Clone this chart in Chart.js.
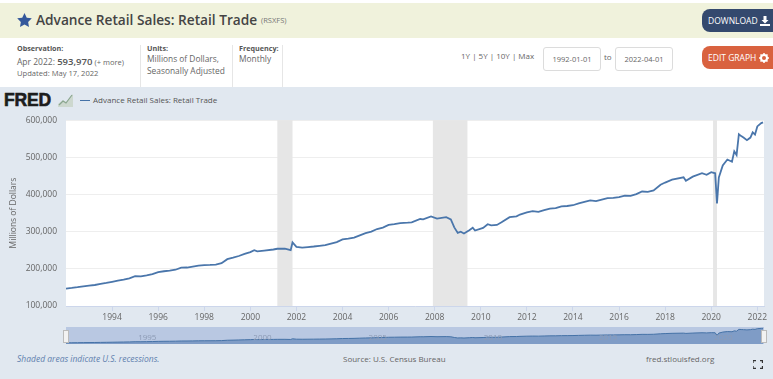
<!DOCTYPE html>
<html>
<head>
<meta charset="utf-8">
<title>Advance Retail Sales: Retail Trade</title>
<script src="https://cdn.jsdelivr.net/npm/chart.js@4"></script>
<style>
  html, body { margin: 0; padding: 0; }
  body { width: 773px; height: 379px; position: relative; overflow: hidden; background: #fff;
         font-family: "Open Sans", sans-serif; color: #666; }
  .t { position: absolute; white-space: nowrap; line-height: 1; }
  .box { position: absolute; }
  .input { position: absolute; top: 47px; width: 56px; height: 22px; border: 1px solid #dcdcdc; border-radius: 3px;
           background: #fff; font-size: 7.5px; line-height: 22px; text-align: center; color: #666; }
  .btn { position: absolute; left: 702px; width: 71px; height: 23px; border-radius: 8px 0 0 8px; color: #fff;
         font-size: 8.5px; line-height: 23px; padding-left: 6px; box-sizing: border-box; white-space: nowrap; }
  .btn svg { vertical-align: -2px; }
  canvas { position: absolute; }
  #mainWrap { position: absolute; left: 0; top: 106px; width: 773px; height: 216px; }
  #navWrap { position: absolute; left: 66px; top: 327px; width: 698px; height: 17px; }
</style>
</head>
<body>
<!-- page header -->
<div class="box" style="left:0;top:3px;width:773px;height:35px;background:#f0f2dc"></div>
<svg class="box" style="left:17px;top:13px" width="15" height="14" viewBox="0 0 24 23"><path fill="#34589b" d="M12 0l3.7 7.6 8.3 1.2-6 5.9 1.4 8.3L12 19l-7.4 4L6 14.700l-6-5.900 8.300-1.200z"/></svg>
<div class="t" style="left:36px;top:13px;font-size:13.700px;font-weight:600;color:#444">Advance Retail Sales: Retail Trade</div>
<div class="t" style="left:261px;top:17px;font-size:7.5px;color:#777">(RSXFS)</div>
<div class="btn" style="top:9px;background:#34496e">DOWNLOAD <svg width="10" height="10" viewBox="0 0 10 10"><path fill="#fff" d="M3.500 0h3v4h2L5 7.500 1.500 4h2zM0 8h10v2H0z"/></svg></div>

<div class="t" style="left:17px;top:45px;font-size:7.2px;font-weight:700;color:#555">Observation:</div>
<div class="t" style="left:17px;top:57px;font-size:8.500px">Apr 2022: <b style="font-size:9.500px;font-weight:600;color:#555">593,970</b> <span style="font-size:7.500px">(+ more)</span></div>
<div class="t" style="left:17px;top:70px;font-size:7.600px">Updated: May 17, 2022</div>
<div class="box" style="left:140px;top:45px;width:1px;height:42px;background:#e6e6e6"></div>
<div class="t" style="left:147px;top:45px;font-size:7.200px;font-weight:700;color:#555">Units:</div>
<div class="t" style="left:147px;top:55px;font-size:8.400px">Millions of Dollars,</div>
<div class="t" style="left:147px;top:67px;font-size:8.400px">Seasonally Adjusted</div>
<div class="box" style="left:232px;top:45px;width:1px;height:42px;background:#e6e6e6"></div>
<div class="t" style="left:239px;top:45px;font-size:7.200px;font-weight:700;color:#555">Frequency:</div>
<div class="t" style="left:239px;top:55px;font-size:8.400px">Monthly</div>
<div class="box" style="left:282px;top:45px;width:1px;height:42px;background:#e6e6e6"></div>

<div class="t" style="left:461px;top:52px;font-size:8px">1Y | 5Y | 10Y | Max</div>
<div class="input" style="left:543px">1992-01-01</div>
<div class="t" style="left:604px;top:53px;font-size:8px">to</div>
<div class="input" style="left:615px">2022-04-01</div>
<div class="btn" style="top:46px;background:#d9623f">EDIT GRAPH <svg width="10" height="10" viewBox="0 0 10 10"><circle cx="5" cy="5" r="3" fill="none" stroke="#fff" stroke-width="2"/><path stroke="#fff" stroke-width="1.500" d="M5 0v2M5 8v2M0 5h2M8 5h2M1.500 1.500l1.300 1.300M7.200 7.200l1.300 1.300M1.500 8.500l1.300-1.300M7.200 2.800l1.300-1.300"/></svg></div>

<!-- blue part of the graph panel -->
<div class="box" style="left:0;top:87px;width:773px;height:292px;background:#e1e8f0"></div>
<div class="t" style="left:4px;top:92px;font-size:17.500px;font-weight:700;color:#1d1d1d;font-family:'Liberation Sans',sans-serif;letter-spacing:-.2px;-webkit-text-stroke:.6px #1d1d1d">FRED</div>
<svg class="box" style="left:58px;top:93px" width="16" height="14" viewBox="0 0 16 14"><path d="M0 14V11L5 7l3 2 7-8v13z" fill="#cdd8cf"/><path d="M1 12L5 8l3 2 6-8" fill="none" stroke="#8aa68f" stroke-width="1.200"/></svg>
<div class="box" style="left:80px;top:100px;width:10px;height:1px;background:#4572a7"></div>
<div class="t" style="left:93px;top:96px;font-size:8px;color:#555">Advance Retail Sales: Retail Trade</div>

<div id="mainWrap"><canvas id="salesChart"></canvas></div>
<div id="navWrap"><canvas id="navChart"></canvas></div>
<!-- navigator handles -->
<div class="box" style="left:63px;top:330px;width:4px;height:11px;background:#f2f2f2;border:1px solid #bbb"></div>
<div class="box" style="left:761px;top:330px;width:4px;height:11px;background:#f2f2f2;border:1px solid #bbb"></div>

<div class="t" style="left:17px;top:355px;font-size:8.500px;font-style:italic;color:#5f7fae">Shaded areas indicate U.S. recessions.</div>
<div class="t" style="left:343px;top:355px;font-size:8px">Source: U.S. Census Bureau</div>
<div class="t" style="left:646px;top:355px;font-size:8px">fred.stlouisfed.org</div>
<svg class="box" style="left:753px;top:360px" width="10" height="9" viewBox="0 0 10 9"><path fill="none" stroke="#333" stroke-width="1.300" d="M0 3V.7h3M7 .7h2.500V3M0 6v2.300h3M7 8.300h2.500V6"/></svg>

<script>
const saleYears = [
  1992, 1992.25, 1992.5, 1992.75, 1993, 1993.25, 1993.5, 1993.75,
  1994, 1994.25, 1994.5, 1994.75, 1995, 1995.25, 1995.5, 1995.75,
  1996, 1996.25, 1996.5, 1996.75, 1997, 1997.25, 1997.5, 1997.75,
  1998, 1998.25, 1998.5, 1998.75, 1999, 1999.25, 1999.5, 1999.75,
  2000, 2000.17, 2000.3, 2000.6, 2001, 2001.17, 2001.5, 2001.75, 2001.83, 2002,
  2002.25, 2002.5, 2002.75, 2003, 2003.25, 2003.5, 2003.75,
  2004, 2004.25, 2004.5, 2004.75, 2005, 2005.25, 2005.5, 2005.75,
  2006, 2006.25, 2006.5, 2006.83, 2007, 2007.37, 2007.5, 2007.84,
  2008.1, 2008.5, 2008.7, 2008.85, 2009, 2009.13, 2009.27, 2009.5, 2009.65, 2009.75,
  2010.1, 2010.3, 2010.45, 2010.7, 2010.9, 2011.25, 2011.55, 2011.7,
  2012, 2012.25, 2012.5, 2012.75, 2013, 2013.25, 2013.5, 2013.75,
  2014, 2014.25, 2014.5, 2014.75, 2015, 2015.25, 2015.5, 2015.75,
  2016, 2016.25, 2016.5, 2016.75, 2017, 2017.25, 2017.5, 2017.8,
  2018, 2018.3, 2018.8, 2018.9, 2019.2, 2019.6, 2019.8, 2020, 2020.17, 2020.25,
  2020.33, 2020.5, 2020.7, 2020.9, 2021, 2021.1, 2021.2, 2021.3, 2021.4, 2021.55,
  2021.7, 2021.8, 2021.9, 2022, 2022.17, 2022.25
];
const saleValues = [
  146900, 148500, 150500, 153000, 155000, 156500, 159500, 162000,
  165000, 168000, 171000, 174500, 180000, 179500, 182500, 186000,
  191000, 193500, 195000, 197500, 203000, 203500, 206000, 208500,
  210000, 210500, 211500, 215000, 226000, 230000, 234500, 240000,
  245000, 250000, 247000, 249000, 252000, 254000, 254500, 250000, 271000, 259000,
  257000, 258500, 260000, 262000, 264000, 268000, 272000,
  279000, 281000, 284000, 290000, 296000, 300000, 307000, 311000,
  318000, 320000, 323000, 324000, 325000, 334000, 333000, 341000,
  335000, 339000, 333000, 311500, 296500, 300000, 295000, 304000, 310600, 303000,
  310000, 320000, 317000, 318000, 325000, 339000, 341000, 346000,
  352000, 355000, 353000, 358000, 362000, 363000, 368000, 369000,
  371000, 376000, 380000, 384000, 382000, 386000, 390000, 391000,
  393000, 397000, 396000, 401000, 408000, 407000, 411000, 426000,
  432000, 440000, 446000, 437000, 448000, 457000, 453000, 460000, 457000, 376000,
  446000, 478000, 494000, 488000, 516000, 506000, 562000, 557000, 553000, 546000,
  553000, 567000, 561000, 583000, 592000, 593970
];

const recessionStarts = [2001.17, 2007.92, 2020.08];
const recessionEnds = [2001.83, 2009.42, 2020.25];
const yTicks = [100000, 200000, 300000, 400000, 500000, 600000];
const xTicks = [1994, 1996, 1998, 2000, 2002, 2004, 2006, 2008, 2010, 2012, 2014, 2016, 2018, 2020, 2022];
const navLabels = [1995, 2000, 2005, 2010, 2015, 2020];

const salePoints = saleYears.map((year, i) => ({ x: year, y: saleValues[i] }));

// white plot background and grey recession bands
const plotBands = {
  id: "plotBands",
  beforeDraw(chart) {
    const { ctx, chartArea } = chart;
    ctx.save();
    ctx.fillStyle = "#ffffff";
    ctx.fillRect(chartArea.left, chartArea.top, chartArea.width, chartArea.height);
    ctx.restore();
  },
  beforeDatasetsDraw(chart) {
    const { ctx, chartArea, scales } = chart;
    ctx.save();
    ctx.fillStyle = "#e6e6e6";
    for (let i = 0; i < recessionStarts.length; i++) {
      const left = scales.x.getPixelForValue(recessionStarts[i]);
      const right = scales.x.getPixelForValue(recessionEnds[i]);
      ctx.fillRect(left, chartArea.top, right - left, chartArea.height);
    }
    ctx.restore();
  },
};

new Chart(document.getElementById("salesChart"), {
  type: "line",
  data: {
    datasets: [
      {
        label: "Advance Retail Sales: Retail Trade",
        data: salePoints,
        borderColor: "#4a76ab",
        borderWidth: 1.8,
        pointRadius: 0,
        tension: 0,
      },
    ],
  },
  plugins: [plotBands],
  options: {
    responsive: true,
    maintainAspectRatio: false,
    animation: false,
    layout: { padding: { top: 6, right: 9 } },
    plugins: {
      legend: { display: false },
      tooltip: { enabled: false },
    },
    scales: {
      x: {
        type: "linear",
        min: 1992,
        max: 2022.29,
        afterBuildTicks: (axis) => { axis.ticks = xTicks.map((value) => ({ value })); },
        afterFit: (axis) => { axis.height = 16; },
        grid: { display: true, drawOnChartArea: false, color: "#ccd6eb", tickLength: 5 },
        border: { color: "#ccd6eb" },
        ticks: {
          maxRotation: 0,
          autoSkip: false,
          padding: 1,
          color: "#666",
          font: { family: "Open Sans", size: 8.5 },
          callback: (value) => String(value),
        },
      },
      y: {
        min: 100000,
        max: 600000,
        afterBuildTicks: (axis) => { axis.ticks = yTicks.map((value) => ({ value })); },
        afterFit: (axis) => { axis.width = 66; },
        grid: { color: "#eeeeee", drawTicks: false },
        border: { display: false },
        ticks: {
          padding: 9,
          color: "#666",
          font: { family: "Open Sans", size: 8.5 },
          callback: (value) => value.toLocaleString("en-US"),
        },
        title: {
          display: true,
          text: "Millions of Dollars",
          color: "#666",
          padding: { top: 8, bottom: 0 },
          font: { family: "Open Sans", size: 8.5 },
        },
      },
    },
  },
});

// faint year labels inside the navigator
const navYearLabels = {
  id: "navYearLabels",
  afterDatasetsDraw(chart) {
    const { ctx, scales } = chart;
    ctx.save();
    ctx.fillStyle = "#8d9bb5";
    ctx.font = '8px "Open Sans"';
    ctx.textBaseline = "middle";
    navLabels.forEach((year) => {
      ctx.fillText(String(year), scales.x.getPixelForValue(year) + 3, 11);
    });
    ctx.restore();
  },
};

new Chart(document.getElementById("navChart"), {
  type: "line",
  data: {
    datasets: [
      {
        data: salePoints,
        borderColor: "#4572a7",
        borderWidth: 1,
        backgroundColor: "#7f9cc6",
        fill: "start",
        pointRadius: 0,
        tension: 0,
      },
    ],
  },
  plugins: [
    {
      id: "navBackground",
      beforeDraw(chart) {
        const { ctx, chartArea } = chart;
        ctx.fillStyle = "#b9c8e2";
        ctx.fillRect(chartArea.left, chartArea.top, chartArea.width, chartArea.height);
      },
    },
    navYearLabels,
  ],
  options: {
    responsive: true,
    maintainAspectRatio: false,
    animation: false,
    plugins: {
      legend: { display: false },
      tooltip: { enabled: false },
    },
    scales: {
      x: { type: "linear", min: 1992, max: 2022.29, display: false },
      y: { min: 110000, max: 635000, display: false },
    },
  },
});
</script>
</body>
</html>
